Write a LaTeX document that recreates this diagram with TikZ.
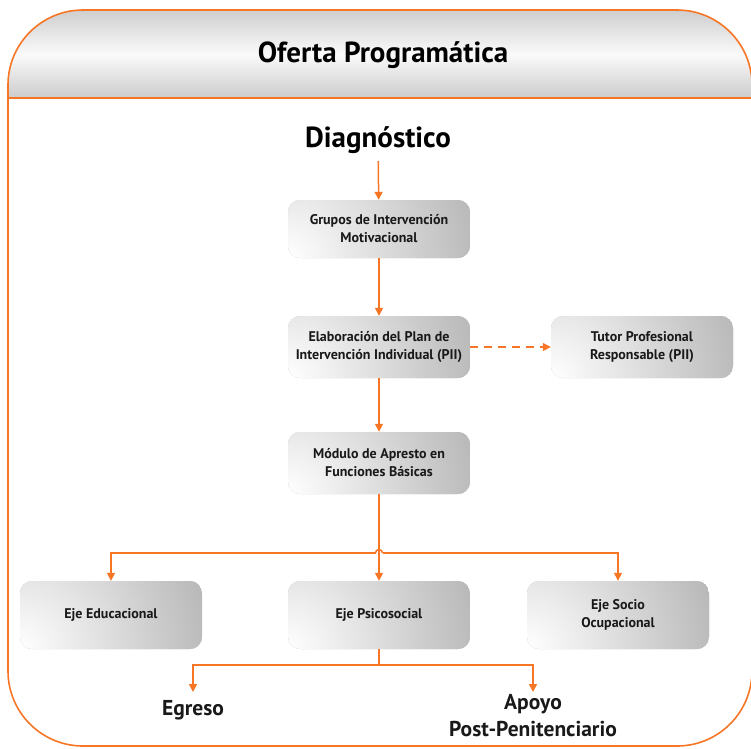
\documentclass[tikz,border=0pt]{standalone}
\usepackage{fontspec}
\setmainfont{PT Sans}
\usetikzlibrary{arrows.meta}
\definecolor{naranja}{RGB}{247,118,38}
\tikzstyle{box} = [rounded corners=12pt, minimum width=182pt, minimum height=62pt, text centered, align=center, text=black!90, font=\bfseries\fontsize{14}{18}\selectfont, path picture={\fill[gray!55] (path picture bounding box.south west) rectangle (path picture bounding box.north east); \shade[inner color=white, outer color=gray!55] (path picture bounding box.south west) circle (190pt);}]
\tikzstyle{wire} = [draw=naranja, line width=1.5pt]
\tikzstyle{line} = [wire, -{Triangle[width=8pt,length=8pt]}]
\tikzstyle{fin} = [align=center, text=black!90, inner xsep=0pt, anchor=north, font=\bfseries\fontsize{21.5}{27}\selectfont]

\begin{document}
\begin{tikzpicture}[x=1pt, y=-1pt]
        \useasboundingbox (0,0) rectangle (751,748);
        % marco con cabecera
        \begin{scope}
            \clip[rounded corners=75pt] (8,10) rectangle (752,746);
            \shade[top color=gray!38, bottom color=gray!40, middle color=gray!4] (0,98) rectangle (752,10);
        \end{scope}
        \draw[draw=naranja, line width=1.6pt, rounded corners=75pt] (8,10) rectangle (752,746);
        \draw[draw=naranja, line width=1.6pt] (8,98) -- (752,98);

        \node (titulo) at (383,55) {\bfseries\fontsize{29}{34}\selectfont Oferta Programática};
        \node (diag) at (378,140) {\bfseries\fontsize{29}{34}\selectfont Diagnóstico};

        \node[box, minimum height=58pt] (grupos) at (379,229) {Grupos de Intervención\\Motivacional};
        \node[box] (plan) at (379,347) {Elaboración del Plan de\\Intervención Individual (PII)};
        \node[box] (tutor) at (642,347) {Tutor Profesional\\Responsable (PII)};
        \node[box] (modulo) at (379,463) {Módulo de Apresto en\\Funciones Básicas};
        \node[box, minimum height=68pt] (edu) at (111,615) {Eje Educacional};
        \node[box, minimum height=68pt] (psico) at (379,615) {Eje Psicosocial};
        \node[box, minimum height=68pt] (socio) at (618,615) {Eje Socio\\Ocupacional};
        \node[fin, inner ysep=8pt] (egreso) at (193,692) {Egreso};
        \node[fin, inner ysep=2pt] (apoyo) at (533,692) {Apoyo\\Post-Penitenciario};

        \coordinate (split) at (379,553);
        \coordinate (join) at (379,665);

        \draw[line, shorten <=4pt] (diag) -- (grupos);
        \draw[line] (grupos) -- (plan);
        \draw[line, dash pattern=on 8pt off 6pt] (plan) -- (tutor);
        \draw[line] (plan) -- (modulo);
        \draw[line] (modulo) -- (psico);
        \draw[line] ([xshift=-3.5pt]split) -| (edu);
        \draw[line] ([xshift=3.5pt]split) -| (socio);
        \draw[wire] ([xshift=-3.5pt]split) arc[start angle=180, end angle=360, radius=3.5];
        \draw[wire] (psico) -- (join);
        \draw[line] (join) -| (egreso);
        \draw[line] (join) -| (apoyo);
\end{tikzpicture}
\end{document}
